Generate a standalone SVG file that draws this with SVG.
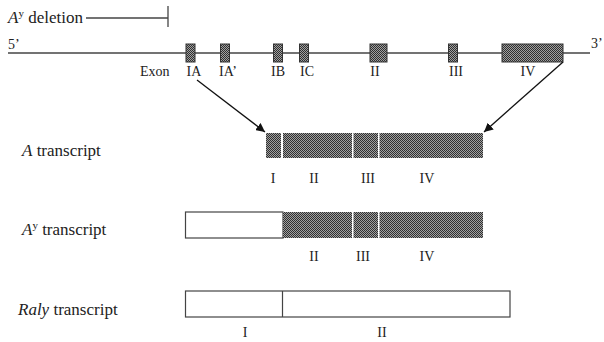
<svg xmlns="http://www.w3.org/2000/svg" width="604" height="342" viewBox="0 0 604 342" font-family="'Liberation Serif', 'Times New Roman', serif">
<defs>
<pattern id="stip" width="2" height="2" patternUnits="userSpaceOnUse">
<rect width="2" height="2" fill="#a0a0a0"/>
<rect width="1" height="1" fill="#303030"/>
<rect x="1" y="1" width="1" height="1" fill="#303030"/>
</pattern>
<marker id="ah" viewBox="0 0 10 10" refX="10" refY="5" markerWidth="9" markerHeight="9" markerUnits="userSpaceOnUse" orient="auto">
<path d="M0,0 L10,5 L0,10 z" fill="#111"/>
</marker>
</defs>
<style>
text{font-family:'Liberation Serif','Times New Roman',serif;fill:#222}
.lab{font-size:17px}
.sm{font-size:14px}
.it{font-style:italic}
.exon{fill:url(#stip);stroke:#333;stroke-width:1}
.seg{fill:url(#stip)}
.wbox{fill:#fff;stroke:#444;stroke-width:1.2}
.ln{stroke:#444;stroke-width:1.3;fill:none}
.arr{stroke:#111;stroke-width:1.3;fill:none}
</style>
<rect width="604" height="342" fill="#fff"/>

<g id="deletion">
<text x="8" y="23" class="lab"><tspan class="it">A</tspan><tspan font-size="11" dy="-6">y</tspan><tspan dy="6"> deletion</tspan></text>
<line x1="86" y1="18" x2="168" y2="18" class="ln"/>
<line x1="168" y1="6" x2="168" y2="27" class="ln"/>
</g>

<g id="genome">
<line x1="8" y1="53" x2="590" y2="53" class="ln"/>
<text x="8" y="49" class="sm">5’</text>
<text x="591" y="48" class="sm">3’</text>
<text x="140" y="76" class="sm">Exon</text>
</g>

<g id="exon-IA"><rect x="186" y="44" width="9" height="18" class="exon"/><text x="194" y="76" class="sm" text-anchor="middle">IA</text></g>
<g id="exon-IAp"><rect x="220.5" y="44" width="9" height="18" class="exon"/><text x="219" y="76" class="sm">IA’</text></g>
<g id="exon-IB"><rect x="273.5" y="44" width="9" height="18" class="exon"/><text x="278" y="76" class="sm" text-anchor="middle">IB</text></g>
<g id="exon-IC"><rect x="299.5" y="44" width="9" height="18" class="exon"/><text x="307" y="76" class="sm" text-anchor="middle">IC</text></g>
<g id="exon-II"><rect x="370" y="44" width="17" height="18" class="exon"/><text x="375" y="76" class="sm" text-anchor="middle">II</text></g>
<g id="exon-III"><rect x="448.5" y="44" width="9" height="18" class="exon"/><text x="456" y="76" class="sm" text-anchor="middle">III</text></g>
<g id="exon-IV"><rect x="502" y="44" width="61" height="18" class="exon"/><text x="528" y="76" class="sm" text-anchor="middle">IV</text></g>

<g id="connectors">
<line x1="197" y1="80" x2="265" y2="132" class="arr" marker-end="url(#ah)"/>
<line x1="563" y1="62" x2="484" y2="132" class="arr" marker-end="url(#ah)"/>
</g>

<g id="A-transcript">
<text x="22" y="156" class="lab"><tspan class="it">A</tspan> transcript</text>
<rect x="266" y="133" width="15" height="25" class="seg"/>
<rect x="283" y="133" width="69" height="25" class="seg"/>
<rect x="353.5" y="133" width="24.5" height="25" class="seg"/>
<rect x="379.5" y="133" width="103.5" height="25" class="seg"/>
<text x="273" y="183" class="sm" text-anchor="middle">I</text>
<text x="314" y="183" class="sm" text-anchor="middle">II</text>
<text x="368" y="183" class="sm" text-anchor="middle">III</text>
<text x="427" y="183" class="sm" text-anchor="middle">IV</text>
</g>

<g id="Ay-transcript">
<text x="22" y="235" class="lab"><tspan class="it">A</tspan><tspan font-size="11" dy="-6">y</tspan><tspan dy="6"> transcript</tspan></text>
<rect x="185.5" y="212" width="97.5" height="26" class="wbox"/>
<rect x="283" y="212" width="69" height="26" class="seg"/>
<rect x="353.5" y="212" width="24.5" height="26" class="seg"/>
<rect x="379.5" y="212" width="103.5" height="26" class="seg"/>
<text x="314" y="261" class="sm" text-anchor="middle">II</text>
<text x="363" y="261" class="sm" text-anchor="middle">III</text>
<text x="427" y="261" class="sm" text-anchor="middle">IV</text>
</g>

<g id="Raly-transcript">
<text x="18" y="315" class="lab"><tspan class="it">Raly</tspan> transcript</text>
<rect x="185.5" y="291" width="324.5" height="26" class="wbox"/>
<line x1="282.5" y1="291" x2="282.5" y2="317" stroke="#444" stroke-width="1.2"/>
<text x="245" y="337" class="sm" text-anchor="middle">I</text>
<text x="382" y="337" class="sm" text-anchor="middle">II</text>
</g>
</svg>
